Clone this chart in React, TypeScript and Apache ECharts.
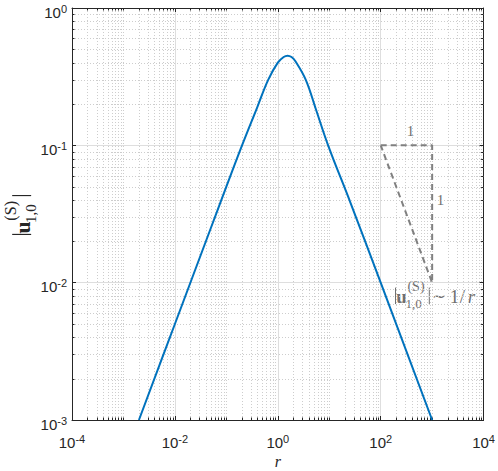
import React, { useEffect, useRef } from "react";
import * as echarts from "echarts";

// ---- data ----
const rValues = [0.002, 0.01, 0.05, 0.1, 0.2, 0.4, 0.65, 1.0, 1.3, 1.55, 1.85, 2.2, 3.5, 5.5, 9.5, 26, 100, 1000];
const uValues = [0.001, 0.005, 0.025, 0.05, 0.099, 0.19, 0.3, 0.4, 0.44, 0.45, 0.44, 0.41, 0.3, 0.183, 0.1, 0.038, 0.01, 0.001];

const slopeR = [100, 1000, 1000, 100];
const slopeU = [0.1, 0.1, 0.01, 0.1];

const xTickExponents = [-4, -2, 0, 2, 4];
const yTickExponents = [-3, -2, -1, 0];
const xRange = [1e-4, 1e4];
const yRange = [1e-3, 1];

// annotation anchors in data coordinates
const runLabelAt = [380, 0.127];
const riseLabelAt = [1450, 0.04];
const lawLabelAt = [187, 0.0071];

const AXIS = "#262626";
const GRAY_LINE = "#808080";
const GRAY_TEXT = "#707070";
const SANS = '"Liberation Sans", Arial, Helvetica, sans-serif';
const SERIF = '"Liberation Serif", "Times New Roman", "DejaVu Serif", serif';

function minorList(majors: number[], from: number, to: number): number[] {
  const out: number[] = [];
  for (let e = from; e < to; e++) {
    for (let m = 1; m <= 9; m++) {
      if (m === 1 && majors.includes(e)) continue;
      out.push(Number((m * Math.pow(10, e)).toPrecision(3)));
    }
  }
  return out;
}

const xMinor = minorList(xTickExponents, -4, 4);
const yMinor = minorList(yTickExponents, -3, 0);

function T(x: number, base: number, text: string, fs: number, color: string, opts: { bold?: boolean; italic?: boolean } = {}) {
  const font = `${opts.italic ? "italic " : ""}${opts.bold ? "bold " : ""}${fs}px ${SERIF}`;
  return {
    type: "text",
    x,
    y: base - 0.34 * fs,
    silent: true,
    style: {
      text,
      fill: color,
      font,
      align: "center",
      verticalAlign: "middle",
      textAlign: "center",
      textVerticalAlign: "middle",
    },
  };
}

function bar(x: number, color: string) {
  return {
    type: "line",
    silent: true,
    shape: { x1: x, y1: -15.5, x2: x, y2: 1 },
    style: { stroke: color, lineWidth: 1 },
  };
}

function symbolU(color: string) {
  return [
    bar(0.5, color),
    T(6.5, 0, "u", 19, color, { bold: true }),
    T(21, -12, "(S)", 14, color),
    T(18.5, 5, "1,0", 13, color),
    bar(34.3, color),
  ];
}

export default function App() {
  const ref = useRef<HTMLDivElement>(null);

  useEffect(() => {
    document.body.style.margin = "0";
    const chart = echarts.init(ref.current!, null, { renderer: "svg" });

    const rich = {
      b: { fontFamily: SANS, fontSize: 15, color: AXIS, lineHeight: 18 },
      s: { fontFamily: SANS, fontSize: 11, color: AXIS, lineHeight: 4, verticalAlign: "top" },
    };
    const fmt = (v: number) => `{b|10}{s|${Math.round(Math.log10(v))}}`;

    const axisCommon = {
      type: "log",
      logBase: 10,
      axisLine: { show: true, onZero: false, lineStyle: { color: AXIS, width: 1 } },
      axisTick: { show: true, inside: true, length: 4, lineStyle: { color: AXIS, width: 1 } },
      minorTick: { show: false },
      minorSplitLine: { show: false },
    };

    const minorRender = (dir: "x" | "y") => (params: any, api: any) => {
      const cs = params.coordSys;
      const v = api.value(dir === "x" ? 0 : 1);
      const p = api.coord(dir === "x" ? [v, yRange[0]] : [xRange[0], v]);
      const dash = { stroke: "#cdcdcd", lineWidth: 1, lineDash: [1, 2] };
      const tick = { stroke: AXIS, lineWidth: 1 };
      if (dir === "x") {
        const x = Math.round(p[0]) + 0.5;
        return {
          type: "group",
          children: [
            { type: "line", shape: { x1: x, y1: cs.y, x2: x, y2: cs.y + cs.height }, style: dash },
            { type: "line", shape: { x1: x, y1: cs.y + cs.height, x2: x, y2: cs.y + cs.height - 2.5 }, style: tick },
            { type: "line", shape: { x1: x, y1: cs.y, x2: x, y2: cs.y + 2.5 }, style: tick },
          ],
        };
      }
      const y = Math.round(p[1]) + 0.5;
      return {
        type: "group",
        children: [
          { type: "line", shape: { x1: cs.x, y1: y, x2: cs.x + cs.width, y2: y }, style: dash },
          { type: "line", shape: { x1: cs.x, y1: y, x2: cs.x + 2.5, y2: y }, style: tick },
          { type: "line", shape: { x1: cs.x + cs.width, y1: y, x2: cs.x + cs.width - 2.5, y2: y }, style: tick },
        ],
      };
    };

    const option: any = {
      animation: false,
      backgroundColor: "#ffffff",
      textStyle: { fontFamily: SANS },
      grid: { left: 72, right: 14, top: 8, bottom: 51, containLabel: false },
      xAxis: [
        {
          ...axisCommon,
          position: "bottom",
          min: xRange[0],
          max: xRange[1],
          interval: 2,
          axisLabel: { show: true, margin: 13, formatter: fmt, rich, showMinLabel: true, showMaxLabel: true, hideOverlap: false },
          splitLine: { show: true, lineStyle: { color: "#dedede", width: 1 } },
        },
        {
          ...axisCommon,
          position: "top",
          min: xRange[0],
          max: xRange[1],
          interval: 2,
          axisLabel: { show: false },
          splitLine: { show: false },
        },
      ],
      yAxis: [
        {
          ...axisCommon,
          position: "left",
          min: yRange[0],
          max: yRange[1],
          interval: 1,
          axisLabel: {
            show: true,
            margin: 5,
            formatter: fmt,
            rich,
            padding: [8, 0, 0, 0],
            showMinLabel: true,
            showMaxLabel: true,
            hideOverlap: false,
          },
          splitLine: { show: true, lineStyle: { color: "#dedede", width: 1 } },
        },
        {
          ...axisCommon,
          position: "right",
          min: yRange[0],
          max: yRange[1],
          interval: 1,
          axisLabel: { show: false },
          splitLine: { show: false },
        },
      ],
      series: [
        {
          type: "custom",
          name: "xMinor",
          xAxisIndex: 0,
          yAxisIndex: 0,
          z: 1,
          silent: true,
          renderItem: minorRender("x"),
          data: xMinor.map((v) => [v, yRange[0]]),
        },
        {
          type: "custom",
          name: "yMinor",
          xAxisIndex: 0,
          yAxisIndex: 0,
          z: 1,
          silent: true,
          renderItem: minorRender("y"),
          data: yMinor.map((v) => [xRange[0], v]),
        },
        {
          type: "line",
          name: "u",
          xAxisIndex: 0,
          yAxisIndex: 0,
          z: 5,
          data: rValues.map((r, i) => [r, uValues[i]]),
          showSymbol: false,
          symbol: "none",
          smooth: 0.4,
          lineStyle: { color: "#0072BD", width: 2 },
        },
        {
          type: "line",
          name: "slope",
          xAxisIndex: 0,
          yAxisIndex: 0,
          z: 4,
          data: slopeR.map((r, i) => [r, slopeU[i]]),
          showSymbol: false,
          symbol: "none",
          lineStyle: { color: GRAY_LINE, width: 2, type: [6, 4] },
        },
      ],
    };

    chart.setOption(option);

    const px = (p: number[]) => chart.convertToPixel({ xAxisIndex: 0, yAxisIndex: 0 }, p) as number[];
    const runP = px(runLabelAt);
    const riseP = px(riseLabelAt);
    const lawP = px(lawLabelAt);
    const g0 = px([xRange[0], yRange[0]]);
    const g1 = px([xRange[1], yRange[1]]);
    const cx = (g0[0] + g1[0]) / 2;
    const cy = (g0[1] + g1[1]) / 2;

    chart.setOption({
      graphic: [
        T(runP[0], runP[1] + 0.34 * 15, "1", 15, GRAY_TEXT),
        T(riseP[0], riseP[1] + 0.34 * 15, "1", 15, GRAY_TEXT),
        {
          type: "group",
          x: Math.round(lawP[0]),
          y: lawP[1],
          silent: true,
          children: [
            ...symbolU(GRAY_TEXT),
            T(44, -0.5, "\u223C", 17, GRAY_TEXT),
            T(59.5, 0, "1", 19, GRAY_TEXT),
            T(67.5, 0, "/", 19, GRAY_TEXT),
            T(76.5, 0, "r", 19, GRAY_TEXT, { italic: true }),
          ],
        },
        T(cx, g0[1] + 47, "r", 16, AXIS, { italic: true }),
        {
          type: "group",
          x: g0[0] - 42,
          y: cy + 21,
          rotation: Math.PI / 2,
          scaleX: 1.15,
          scaleY: 1.15,
          silent: true,
          children: symbolU(AXIS),
        },
      ],
    });

    return () => chart.dispose();
  }, []);

  return <div ref={ref} style={{ position: "fixed", left: 0, top: 0, width: 498, height: 471 }} />;
}
